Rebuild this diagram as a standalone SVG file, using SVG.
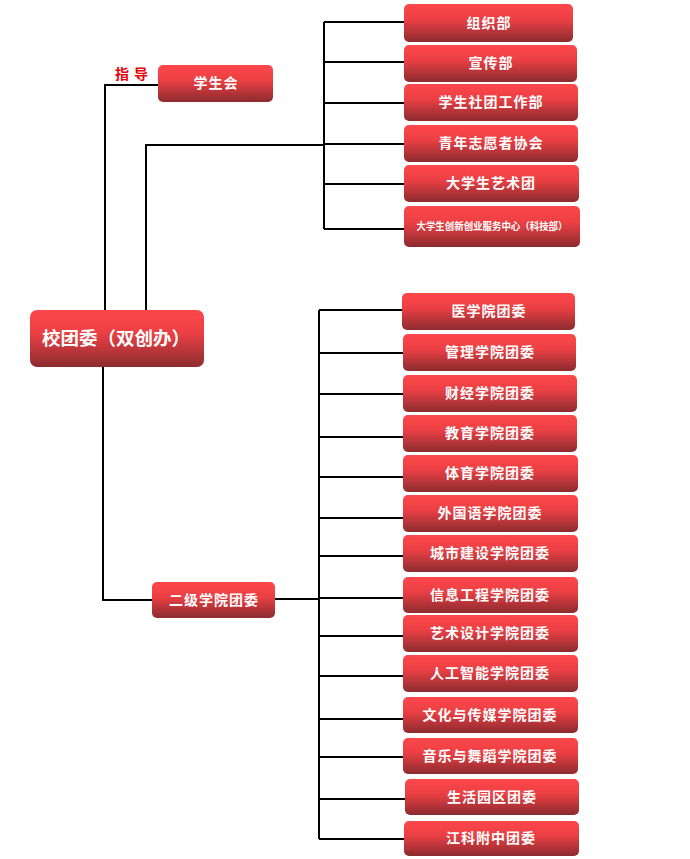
<svg xmlns="http://www.w3.org/2000/svg" width="690" height="859" viewBox="0 0 690 859">
<defs>
<linearGradient id="g" x1="0" y1="0" x2="0" y2="1">
<stop offset="0" stop-color="#fd474b"/>
<stop offset="0.4" stop-color="#ec4044"/>
<stop offset="1" stop-color="#8c2b2f"/>
</linearGradient>
<style>
.b{fill:url(#g);}
.t{font-family:"Noto Sans CJK SC","Liberation Sans",sans-serif;font-weight:bold;font-size:14px;fill:#fff;text-anchor:middle;dominant-baseline:central;letter-spacing:1px;}
.c{fill:none;stroke:#000;stroke-width:2;}
</style>
</defs>
<rect width="690" height="859" fill="#fff"/>
<g id="connectors" class="c">
<path d="M105,310V85H158"/>
<path d="M146,310V145H324"/>
<path d="M324,22V229"/>
<path d="M324,22H404M324,62H404M324,103H404M324,144H404M324,184H404M324,229H404"/>
<path d="M103,367V600H152"/>
<path d="M275,599H319"/>
<path d="M319,310V839"/>
<path d="M319,310H402M319,353H403M319,394H403M319,437H403M319,477H403M319,518H403M319,556H403M319,598H403M319,636H403M319,676H403M319,719H403M319,757H403M319,799H405M319,839H404"/>
</g>
<text x="132" y="73" font-family="'Noto Sans CJK SC',sans-serif" font-weight="bold" font-size="14" fill="#e8000b" text-anchor="middle" dominant-baseline="central" letter-spacing="1">指 导</text>
<g id="root"><rect class="b" x="30" y="310" width="174" height="57" rx="7"/><text class="t" x="116" y="337" style="font-size:18.5px;letter-spacing:0">校团委（双创办）</text></g>
<g id="xsh"><rect class="b" x="158" y="65" width="115" height="37" rx="5"/><text class="t" x="216" y="82">学生会</text></g>
<g id="ejxy"><rect class="b" x="152" y="582" width="123" height="36" rx="5"/><text class="t" x="214" y="598.5">二级学院团委</text></g>
<g id="n1"><rect class="b" x="404" y="4" width="169" height="38" rx="5"/><text class="t" x="489" y="21.5">组织部</text></g>
<g id="n2"><rect class="b" x="404" y="45" width="173" height="37" rx="5"/><text class="t" x="491" y="62">宣传部</text></g>
<g id="n3"><rect class="b" x="404" y="84" width="174" height="37" rx="5"/><text class="t" x="491" y="101">学生社团工作部</text></g>
<g id="n4"><rect class="b" x="404" y="125" width="174" height="37" rx="5"/><text class="t" x="491" y="142">青年志愿者协会</text></g>
<g id="n5"><rect class="b" x="404" y="165" width="175" height="37" rx="5"/><text class="t" x="491" y="182">大学生艺术团</text></g>
<g id="n6"><rect class="b" x="404" y="206" width="176" height="41" rx="5"/><text class="t" x="492" y="225.5" style="font-size:10px;letter-spacing:0" textLength="151" lengthAdjust="spacingAndGlyphs">大学生创新创业服务中心（科技部）</text></g>
<g id="m1"><rect class="b" x="402" y="293" width="173" height="37" rx="5"/><text class="t" x="489" y="310">医学院团委</text></g>
<g id="m2"><rect class="b" x="403" y="334" width="173" height="37" rx="5"/><text class="t" x="490" y="351">管理学院团委</text></g>
<g id="m3"><rect class="b" x="403" y="375" width="174" height="37" rx="5"/><text class="t" x="490" y="392">财经学院团委</text></g>
<g id="m4"><rect class="b" x="403" y="415" width="174" height="37" rx="5"/><text class="t" x="490" y="432">教育学院团委</text></g>
<g id="m5"><rect class="b" x="403" y="455" width="175" height="37" rx="5"/><text class="t" x="490" y="472">体育学院团委</text></g>
<g id="m6"><rect class="b" x="403" y="495" width="175" height="37" rx="5"/><text class="t" x="490" y="512">外国语学院团委</text></g>
<g id="m7"><rect class="b" x="403" y="535" width="175" height="37" rx="5"/><text class="t" x="490" y="552">城市建设学院团委</text></g>
<g id="m8"><rect class="b" x="403" y="577" width="175" height="36" rx="5"/><text class="t" x="490" y="593.5">信息工程学院团委</text></g>
<g id="m9"><rect class="b" x="403" y="615" width="175" height="37" rx="5"/><text class="t" x="490" y="632">艺术设计学院团委</text></g>
<g id="m10"><rect class="b" x="403" y="655" width="175" height="37" rx="5"/><text class="t" x="490" y="672">人工智能学院团委</text></g>
<g id="m11"><rect class="b" x="403" y="697" width="175" height="36" rx="5"/><text class="t" x="490" y="713.5">文化与传媒学院团委</text></g>
<g id="m12"><rect class="b" x="403" y="738" width="175" height="36" rx="5"/><text class="t" x="490" y="754.5">音乐与舞蹈学院团委</text></g>
<g id="m13"><rect class="b" x="405" y="779" width="174" height="36" rx="5"/><text class="t" x="492" y="795.5">生活园区团委</text></g>
<g id="m14"><rect class="b" x="404" y="821" width="175" height="35" rx="5"/><text class="t" x="491" y="837">江科附中团委</text></g>
</svg>
